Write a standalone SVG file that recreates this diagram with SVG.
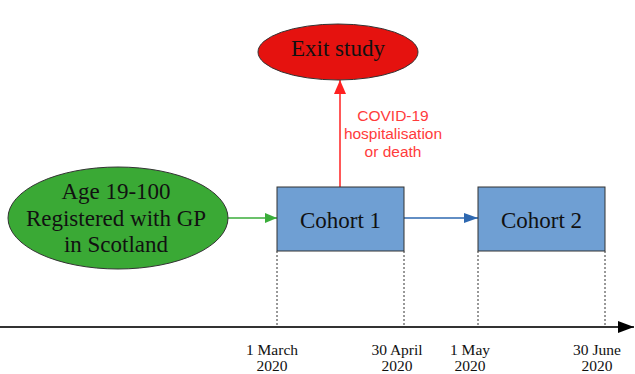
<svg xmlns="http://www.w3.org/2000/svg" width="635" height="374" viewBox="0 0 635 374">
<style>
.serif{font-family:"Liberation Serif","Times New Roman",serif;fill:#111;text-anchor:middle}
.node{font-size:23px}
.date{font-size:15.5px}
.lbl{font-family:"Liberation Sans",Arial,sans-serif;font-size:15.5px;fill:#ff3b3b;text-anchor:middle}
.box{fill:#6f9fd3;stroke:#333;stroke-width:1}
.dot{stroke:#333;stroke-width:1;stroke-dasharray:2,2;fill:none}
</style>
<defs>
<marker id="ag" markerWidth="12" markerHeight="10" refX="12" refY="5" orient="auto" markerUnits="userSpaceOnUse"><path d="M0,0L12,5L0,10z" fill="#3aad3a"/></marker>
<marker id="ab" markerWidth="14" markerHeight="10" refX="14" refY="5" orient="auto" markerUnits="userSpaceOnUse"><path d="M0,0L14,5L0,10z" fill="#2e68b0"/></marker>
<marker id="ar" markerWidth="14" markerHeight="12" refX="14" refY="6" orient="auto" markerUnits="userSpaceOnUse"><path d="M0,0L14,6L0,12z" fill="#ff2020"/></marker>
<marker id="ak" markerWidth="16" markerHeight="12" refX="16" refY="6" orient="auto" markerUnits="userSpaceOnUse"><path d="M0,0L16,6L0,12z" fill="#000"/></marker>
</defs>
<g id="connectors">
<line x1="0" y1="327" x2="634" y2="327" stroke="#333" stroke-width="2" marker-end="url(#ak)"/>
<line class="dot" x1="277" y1="251" x2="277" y2="327"/>
<line class="dot" x1="404" y1="251" x2="404" y2="327"/>
<line class="dot" x1="478" y1="251" x2="478" y2="327"/>
<line class="dot" x1="605" y1="251" x2="605" y2="327"/>
<line x1="227" y1="218" x2="277" y2="218" stroke="#3aad3a" stroke-width="1.5" marker-end="url(#ag)"/>
<line x1="404" y1="218" x2="478" y2="218" stroke="#2e68b0" stroke-width="1.5" marker-end="url(#ab)"/>
<line x1="340" y1="187" x2="340" y2="80" stroke="#ff2020" stroke-width="1.5" marker-end="url(#ar)"/>
<text class="lbl" x="393" y="121">COVID-19</text>
<text class="lbl" x="393" y="139">hospitalisation</text>
<text class="lbl" x="393" y="157">or death</text>
</g>
<g id="exit">
<ellipse cx="338" cy="52" rx="80" ry="28" fill="#e5120f" stroke="#333" stroke-width="1"/>
<text class="serif node" x="338" y="56">Exit study</text>
</g>
<g id="population">
<ellipse cx="118" cy="218" rx="110" ry="51" fill="#3aa935" stroke="#333" stroke-width="1"/>
<text class="serif node" x="116" y="199">Age 19-100</text>
<text class="serif node" x="116" y="226">Registered with GP</text>
<text class="serif node" x="116" y="252">in Scotland</text>
</g>
<g id="cohort1">
<rect class="box" x="277" y="187" width="127" height="64"/>
<text class="serif node" x="340.5" y="228">Cohort 1</text>
</g>
<g id="cohort2">
<rect class="box" x="478" y="187" width="127" height="64"/>
<text class="serif node" x="541.5" y="228">Cohort 2</text>
</g>
<g id="dates">
<text class="serif date" x="272" y="355">1 March</text>
<text class="serif date" x="272" y="371">2020</text>
<text class="serif date" x="397" y="355">30 April</text>
<text class="serif date" x="397" y="371">2020</text>
<text class="serif date" x="470" y="355">1 May</text>
<text class="serif date" x="470" y="371">2020</text>
<text class="serif date" x="597" y="355">30 June</text>
<text class="serif date" x="597" y="371">2020</text>
</g>
</svg>
